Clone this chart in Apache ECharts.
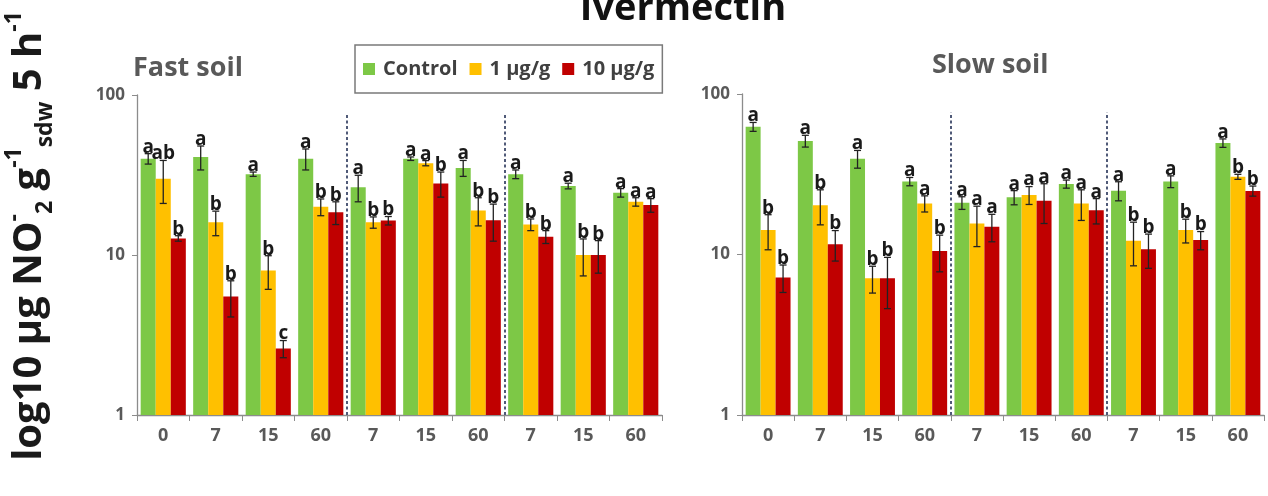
<!DOCTYPE html>
<html>
<head>
<meta charset="utf-8">
<script src="https://cdn.jsdelivr.net/npm/echarts@6/dist/echarts.min.js"></script>
<style>html,body{margin:0;padding:0;background:#fff;}#c{width:1268px;height:496px;}</style>
</head>
<body>
<div id="c"></div>
<script>
// ---- data ----
const categories = ['0', '7', '15', '60', '7', '15', '60', '7', '15', '60'];
const seriesNames = ['Control', '1 µg/g', '10 µg/g'];

const fastControl    = [40, 41, 32, 40, 26.5, 40, 35, 32, 27, 24.5];
const fastControlSd  = [3, 7, 1, 6, 5, 1, 4, 2, 1.1, 1.5];
const fastControlLbl = ['a', 'a', 'a', 'a', 'a', 'a', 'a', 'a', 'a', 'a'];
const fastLow        = [30, 16, 8, 20, 16, 37.5, 19, 15.5, 10, 21.5];
const fastLowSd      = [9, 2.8, 1.9, 2.4, 1.3, 1.4, 3.8, 1.3, 2.6, 1.3];
const fastLowLbl     = ['ab', 'b', 'b', 'b', 'b', 'a', 'b', 'b', 'b', 'a'];
const fastHigh       = [12.7, 5.5, 2.6, 18.5, 16.4, 28, 16.5, 13, 10, 20.5];
const fastHighSd     = [0.5, 1.4, 0.32, 3, 1, 5, 4.3, 1.2, 2.3, 2];
const fastHighLbl    = ['b', 'b', 'c', 'b', 'b', 'b', 'b', 'b', 'b', 'a'];

const slowControl    = [62.5, 51, 39.5, 28.5, 21, 22.7, 27.5, 25, 28.5, 49.5];
const slowControlSd  = [4, 4.3, 5, 1.7, 1.9, 2.3, 1.6, 3.4, 2.4, 3];
const slowControlLbl = ['a', 'a', 'a', 'a', 'a', 'a', 'a', 'a', 'a', 'a'];
const slowLow        = [14.2, 20.3, 7.1, 20.8, 15.6, 23.5, 20.8, 12.2, 14.2, 30.5];
const slowLowSd      = [3.5, 5, 1.35, 2.4, 4.4, 3, 4.5, 3.7, 2.4, 1.1];
const slowLowLbl     = ['b', 'b', 'b', 'a', 'a', 'a', 'a', 'b', 'b', 'b'];
const slowHigh       = [7.2, 11.6, 7.1, 10.5, 14.9, 21.6, 18.9, 10.8, 12.3, 24.9];
const slowHighSd     = [1.4, 2.5, 2.5, 2.7, 2.9, 6, 3.4, 2.6, 1.6, 1.8];
const slowHighLbl    = ['b', 'b', 'b', 'b', 'a', 'a', 'a', 'b', 'b', 'b'];

const dividerAfter = [4, 7];   // category index right of each dashed separator
const dividerTop = 77;         // value where separator line ends

// ---- styling ----
const colors = ['#7dc846', '#ffc000', '#c00000'];
const barGapPct = 0.14;
const FONT = '"Open Sans", "DejaVu Sans", sans-serif';

const fast = [[fastControl, fastControlSd, fastControlLbl], [fastLow, fastLowSd, fastLowLbl], [fastHigh, fastHighSd, fastHighLbl]];
const slow = [[slowControl, slowControlSd, slowControlLbl], [slowLow, slowLowSd, slowLowLbl], [slowHigh, slowHighSd, slowHighLbl]];

function errRender(k, letters) {
  return function (params, api) {
    const idx = api.value(0), v = api.value(1), sd = api.value(2);
    const band = api.size([1, 1])[0];
    const bw = band * (1 - barGapPct) / 3;
    const top = api.coord([idx, v + sd]);
    const bot = api.coord([idx, Math.max(v - sd, 1.0001)]);
    const x = top[0] + (k - 1) * bw;
    const cap = 3.5;
    const st = { stroke: '#222', lineWidth: 1.3 };
    return {
      type: 'group',
      children: [
        { type: 'line', shape: { x1: x, y1: top[1], x2: x, y2: bot[1] }, style: st },
        { type: 'line', shape: { x1: x - cap, y1: top[1], x2: x + cap, y2: top[1] }, style: st },
        { type: 'line', shape: { x1: x - cap, y1: bot[1], x2: x + cap, y2: bot[1] }, style: st },
        { type: 'text', x: x, y: top[1] + 3, style: { text: letters[params.dataIndex], fill: '#1a1a1a', font: 'bold 19px ' + FONT, align: 'center', verticalAlign: 'bottom' } }
      ]
    };
  };
}

function divRender(params, api) {
  const i = api.value(0);
  const band = api.size([1, 1])[0];
  const b = api.coord([i, 1]);
  const t = api.coord([i, dividerTop]);
  const x = Math.round(b[0] - band / 2);
  return { type: 'line', shape: { x1: x, y1: b[1], x2: x, y2: t[1] }, style: { stroke: '#505a78', lineWidth: 2, lineDash: [3, 2.5] } };
}

const series = [];
[fast, slow].forEach(function (panel, p) {
  panel.forEach(function (s, k) {
    series.push({
      name: seriesNames[k], type: 'bar', xAxisIndex: p, yAxisIndex: p,
      data: s[0], barGap: '0%', barCategoryGap: (barGapPct * 100) + '%',
      itemStyle: { color: colors[k] }, z: 2
    });
  });
  panel.forEach(function (s, k) {
    series.push({
      name: 'err' + p + k, type: 'custom', xAxisIndex: p, yAxisIndex: p, z: 5,
      renderItem: errRender(k, s[2]),
      data: s[0].map(function (v, i) { return [i, v, s[1][i]]; })
    });
  });
  series.push({
    name: 'div' + p, type: 'custom', xAxisIndex: p, yAxisIndex: p, z: 6,
    renderItem: divRender, data: dividerAfter.map(function (i) { return [i]; })
  });
});

function xAx(gi) {
  return {
    type: 'category', gridIndex: gi, data: categories,
    axisLine: { lineStyle: { color: '#8c8c8c', width: 1.3 } },
    axisTick: { show: true, length: 6, lineStyle: { color: '#8c8c8c' } },
    axisLabel: { color: '#595959', fontSize: 18, fontWeight: 'bold', fontFamily: FONT, margin: 12 }
  };
}
function yAx(gi) {
  return {
    type: 'log', logBase: 10, min: 1, max: 100, gridIndex: gi,
    axisLine: { show: true, lineStyle: { color: '#8c8c8c', width: 1.3 } },
    axisTick: { show: true, length: 5, lineStyle: { color: '#8c8c8c' } },
    splitLine: { show: false },
    minorTick: { show: false },
    axisLabel: { color: '#595959', fontSize: 17, fontWeight: 'bold', fontFamily: FONT, margin: 12 }
  };
}

const chart = echarts.init(document.getElementById('c'), null, { renderer: 'canvas' });
chart.setOption({
  animation: false,
  backgroundColor: '#fff',
  title: {
    text: 'Ivermectin', left: 678, top: -15, textAlign: 'center',
    textStyle: { fontSize: 38, fontWeight: 'bold', color: '#111', fontFamily: FONT }
  },
  legend: {
    data: seriesNames, left: 355, top: 45, padding: [14, 8, 14, 8],
    borderColor: '#7a7a7a', borderWidth: 1.5, borderRadius: 0,
    icon: 'rect', itemWidth: 12, itemHeight: 12, itemGap: 12,
    textStyle: { fontSize: 20, fontWeight: 'bold', color: '#404040', fontFamily: FONT, padding: [0, 0, 0, 3] }
  },
  grid: [
    { left: 137, top: 95, width: 525, height: 320 },
    { left: 742, top: 94, width: 522, height: 321 }
  ],
  xAxis: [xAx(0), xAx(1)],
  yAxis: [yAx(0), yAx(1)],
  series: series,
  graphic: [
    { type: 'text', left: 133, top: 55, style: { text: 'Fast soil', font: 'bold 27px ' + FONT, fill: '#595959' } },
    { type: 'text', left: 932, top: 52, style: { text: 'Slow soil', font: 'bold 27px ' + FONT, fill: '#595959' } },
    {
      type: 'text', x: 30, y: 236, rotation: Math.PI / 2,
      style: {
        text: '{n|log10 µg NO}{sup|-}{sub|2}{n| g}{sup|-1}{sub|sdw}{n| 5 h}{sup|-1}',
        align: 'center', verticalAlign: 'middle', fill: '#1a1a1a',
        rich: {
          n: { fontSize: 40, fontWeight: 'bold', fontFamily: FONT, lineHeight: 54, verticalAlign: 'middle', fill: '#1a1a1a' },
          sup: { fontSize: 23, fontWeight: 'bold', fontFamily: FONT, lineHeight: 54, verticalAlign: 'top', fill: '#1a1a1a' },
          sub: { fontSize: 23, fontWeight: 'bold', fontFamily: FONT, lineHeight: 54, verticalAlign: 'bottom', fill: '#1a1a1a' }
        }
      }
    }
  ]
});
</script>
</body>
</html>
